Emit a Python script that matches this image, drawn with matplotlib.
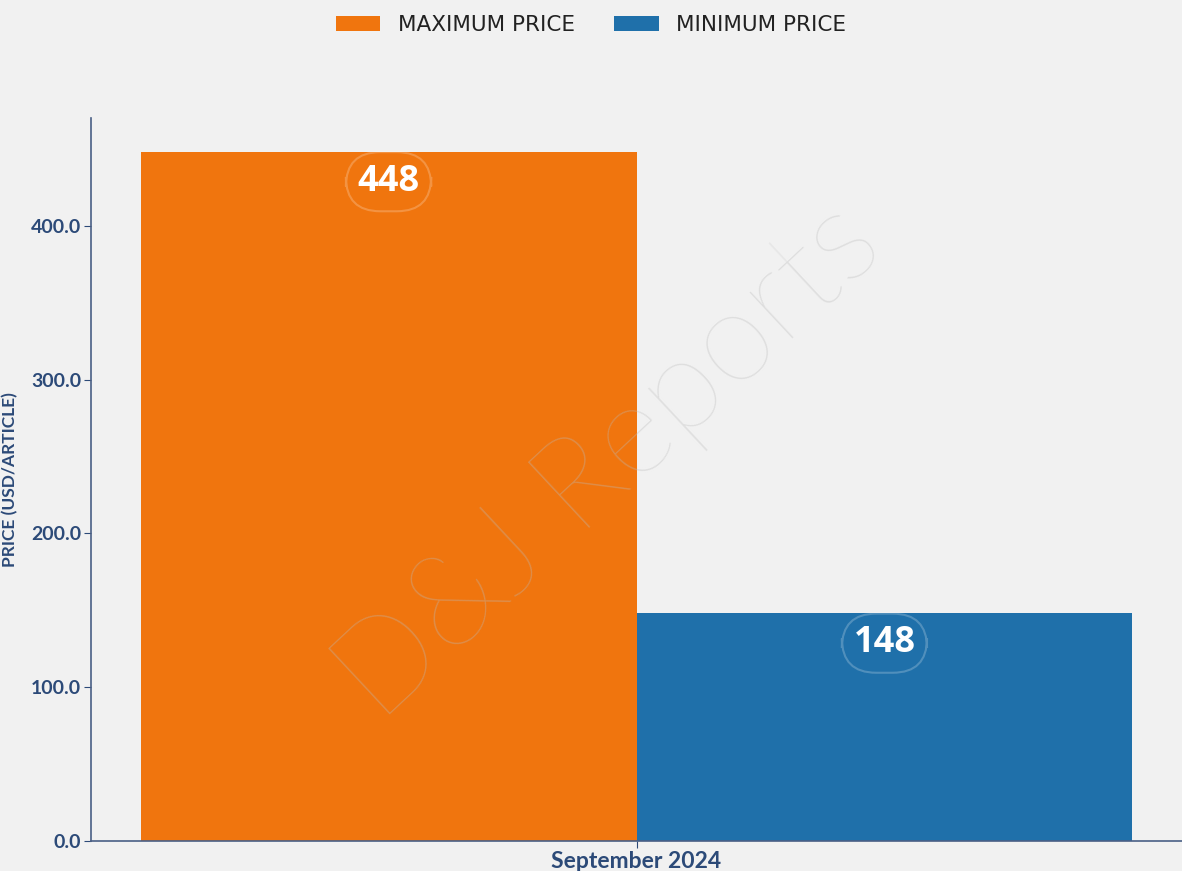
import matplotlib.pyplot as plt

months = ['September 2024']
series_names = ['MAXIMUM PRICE', 'MINIMUM PRICE']
max_price = [448]
min_price = [148]
colors = ['#f0750e', '#1f70aa']
y_ticks = [0, 100, 200, 300, 400]

axis_color = '#2c4a78'

fig = plt.figure(figsize=(11.82, 8.71), dpi=100, facecolor='#f1f1f1')
ax = fig.add_axes([91 / 1182, 30 / 871, 1091 / 1182, 723 / 871])
ax.set_facecolor('none')

width = 0.4
bars1 = ax.bar([-width / 2], max_price, width, color=colors[0], label=series_names[0], zorder=2)
bars2 = ax.bar([width / 2], min_price, width, color=colors[1], label=series_names[1], zorder=2)

ax.set_xlim(-0.44, 0.44)
ax.set_ylim(0, 470)

for bars in (bars1, bars2):
    for b in bars:
        v = b.get_height()
        ax.annotate(f'{v:.0f}', (b.get_x() + b.get_width() / 2, v), xytext=(0, -21.5),
                    textcoords='offset points', ha='center', va='center',
                    fontsize=26, fontweight='bold', color='white', family='Open Sans', zorder=4,
                    bbox=dict(boxstyle='round,pad=0.32,rounding_size=0.95', fc='none',
                              ec=(1, 1, 1, 0.22), lw=1.5))

ax.set_xticks([0])
ax.set_xticklabels(months, fontsize=16.5, fontweight='bold', color=axis_color, family='Lato')
ax.set_yticks(y_ticks)
ax.set_yticklabels([f'{t:.1f}' for t in y_ticks], fontsize=14, fontweight='bold',
                   color=axis_color, family='Lato')
ax.tick_params(axis='both', colors=axis_color, length=5, pad=2)
ax.set_ylabel('PRICE (USD/ARTICLE)', fontsize=12.5, fontweight='bold', color=axis_color,
              family='Lato')
ax.yaxis.set_label_coords(-0.067, 0.5)

for s in ['top', 'right']:
    ax.spines[s].set_visible(False)
for s in ['left', 'bottom']:
    ax.spines[s].set_color('#4a5f85')
    ax.spines[s].set_linewidth(1.2)

# watermark
fig.text(0.515, 0.47, 'D&J Reports', fontsize=92, color='#bbbbbb', alpha=0.35,
         rotation=43, ha='center', va='center', family='Lato', fontweight='light', zorder=5)

fig.legend(handles=[bars1, bars2], labels=series_names, loc='upper center',
           bbox_to_anchor=(0.5, 1.005), ncol=2, frameon=False,
           handlelength=2.05, handleheight=0.75, columnspacing=1.85, handletextpad=0.8,
           labelcolor='#222222', prop={'family': 'DejaVu Sans', 'size': 15.5})

fig.savefig('out.png', dpi=100, facecolor=fig.get_facecolor())
